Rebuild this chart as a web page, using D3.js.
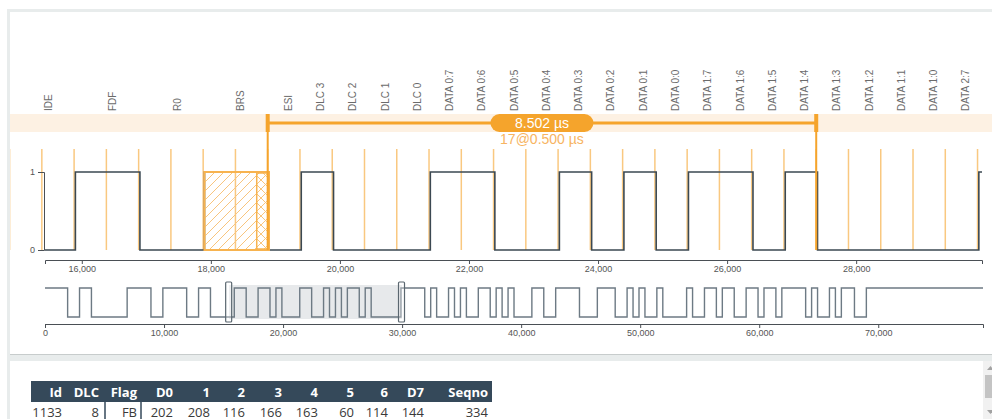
<!DOCTYPE html>
<html>
<head>
<meta charset="utf-8">
<script src="https://cdn.jsdelivr.net/npm/d3@7"></script>
<style>
  body { margin: 0; background: #fff; font-family: "Liberation Sans", Arial, sans-serif; }
  svg { display: block; }
</style>
</head>
<body>
<svg id="chart" width="992" height="419"></svg>
<script>
// signal edges (ns) and the level after each edge
const edgeTimes = [0, 1901, 2901, 3901, 6901, 8901, 9901, 11901, 12901, 13901, 15901, 16901,
  17901, 18901, 19401, 19901, 21401, 22401, 23401, 23901, 24401, 24901, 25401, 26401, 26901,
  27401, 29901, 31901, 32401, 32901, 33901, 34401, 34901, 35401, 36401, 37401, 37901, 38401,
  38901, 39401, 40901, 41901, 42901, 44901, 46401, 47901, 48901, 49401, 49901, 50401, 51401,
  51901, 53901, 54401, 55401, 56401, 56901, 57901, 58901, 59901, 60401, 61401, 61901, 63901,
  64401, 64901, 65901, 66401, 66901, 68001, 69001];
const edgeLevels = [1, 0, 1, 0, 1, 0, 1, 0, 1, 0, 1, 0,
  1, 0, 1, 0, 1, 0, 1, 0, 1, 0, 1, 0, 1,
  0, 1, 0, 1, 0, 1, 0, 1, 0, 1, 0, 1, 0,
  1, 0, 1, 0, 1, 0, 1, 0, 1, 0, 1, 0, 1,
  0, 1, 0, 1, 0, 1, 0, 1, 0, 1, 0, 1, 0,
  1, 0, 1, 0, 1, 0, 1];
const signalEnd = 78800;

// zoomed window
const viewDomain = [15430, 29950];

// bit fields shown above the trace
const bitNames = ["IDE", "FDF", "R0", "BRS", "ESI", "DLC 3", "DLC 2", "DLC 1", "DLC 0",
  "DATA 0:7", "DATA 0:6", "DATA 0:5", "DATA 0:4", "DATA 0:3", "DATA 0:2", "DATA 0:1", "DATA 0:0",
  "DATA 1:7", "DATA 1:6", "DATA 1:5", "DATA 1:4", "DATA 1:3", "DATA 1:2", "DATA 1:1", "DATA 1:0",
  "DATA 2:7"];
const bitBounds = [14911, 15911, 16911, 17911, 18881, 19381, 19881, 20381, 20881,
  21381, 21881, 22381, 22881, 23381, 23881, 24381, 24881,
  25381, 25881, 26381, 26881, 27381, 27881, 28381, 28881,
  29381, 29881];

// sample grid lines
const gridTimes = [14881, 15381, 15881, 16381, 16881, 17381, 17881, 18381, 18881, 19381,
  19881, 20381, 20881, 21381, 21881, 22381, 22881, 23381, 23881, 24381, 24881, 25381,
  25881, 26381, 26881, 27381, 27881, 28381, 28881, 29381, 29881];

// BRS highlight and measurement
const brsBit = [17901, 18901];
const brsSwitch = 18711;
const measure = [18881, 27381];
const measureText = "8.502 µs";
const measureSub = "17@0.500 µs";

// table
const tableHeaders = ["Id", "DLC", "Flag", "D0", "1", "2", "3", "4", "5", "6", "D7", "Seqno"];
const tableRow = ["1133", "8", "FB", "202", "208", "116", "166", "163", "60", "114", "144", "334"];

const orange = "#f5a42c";
const svg = d3.select("#chart");

// page frame and cards
svg.append("rect").attr("x", 7).attr("y", 9).attr("width", 985).attr("height", 410).attr("fill", "#e8ecec");
svg.append("rect").attr("x", 10).attr("y", 12).attr("width", 982).attr("height", 342).attr("fill", "#fff");
svg.append("line").attr("x1", 10).attr("x2", 992).attr("y1", 354.5).attr("y2", 354.5)
  .attr("stroke", "#c7cccc");
svg.append("rect").attr("x", 10).attr("y", 361).attr("width", 973).attr("height", 58).attr("fill", "#fff");

const defs = svg.append("defs");
defs.append("clipPath").attr("id", "plotClip").append("rect")
  .attr("x", 45).attr("y", 140).attr("width", 937).attr("height", 120);
defs.append("clipPath").attr("id", "cardClip").append("rect")
  .attr("x", 10).attr("y", 12).attr("width", 982).attr("height", 342);

function hatch(id, d) {
  defs.append("pattern").attr("id", id).attr("patternUnits", "userSpaceOnUse")
    .attr("width", 9).attr("height", 9)
    .append("path").attr("d", d)
    .attr("stroke", "#f8c57e").attr("stroke-width", 1);
}
hatch("hatchA", "M-1,1 l2,-2 M0,9 l9,-9 M8,10 l2,-2");
hatch("hatchB", "M-1,8 l2,2 M0,0 l9,9 M8,-1 l2,2");

// main chart
const x = d3.scaleLinear().domain(viewDomain).range([45, 982]);
const y = d3.scaleLinear().domain([0, 1]).range([250, 172]);

const card = svg.append("g").attr("clip-path", "url(#cardClip)");

card.append("rect").attr("x", 10).attr("y", 114).attr("width", 982).attr("height", 18)
  .attr("fill", "#fdf1e3");

card.selectAll("text.bit")
  .data(bitNames)
  .join("text")
  .attr("class", "bit")
  .attr("transform", (d, i) => `translate(${x((bitBounds[i] + bitBounds[i + 1]) / 2) + 4.5},111) rotate(-90)`)
  .attr("dy", "0.35em")
  .attr("font-size", 10)
  .attr("fill", "#6b6b6b")
  .text((d) => d);

card.selectAll("line.grid")
  .data(gridTimes)
  .join("line")
  .attr("class", "grid")
  .attr("x1", (d) => x(d)).attr("x2", (d) => x(d))
  .attr("y1", 149).attr("y2", 250)
  .attr("stroke", orange).attr("stroke-opacity", 0.6).attr("stroke-width", 1.5);

const points = edgeTimes.map((t, i) => [t, edgeLevels[i]]);
points.push([signalEnd, edgeLevels[edgeLevels.length - 1]]);

const mainLine = d3.line().x((d) => x(d[0])).y((d) => y(d[1])).curve(d3.curveStepAfter);
svg.append("path")
  .attr("clip-path", "url(#plotClip)")
  .attr("d", mainLine(points))
  .attr("fill", "none").attr("stroke", "#3b4852").attr("stroke-width", 1.6);

// BRS bit highlight
svg.append("rect")
  .attr("x", x(brsBit[0])).attr("y", y(1))
  .attr("width", x(brsBit[1]) - x(brsBit[0])).attr("height", y(0) - y(1))
  .attr("fill", "url(#hatchA)").attr("stroke", "#f7b34f").attr("stroke-width", 2);
svg.append("rect")
  .attr("x", x(brsSwitch)).attr("y", y(1) + 1)
  .attr("width", x(brsBit[1]) - x(brsSwitch) - 1).attr("height", y(0) - y(1) - 2)
  .attr("fill", "url(#hatchB)").attr("stroke", "#f7b34f").attr("stroke-width", 1.5);

// measurement bracket
svg.selectAll("line.mark")
  .data(measure)
  .join("line")
  .attr("class", "mark")
  .attr("x1", (d) => x(d)).attr("x2", (d) => x(d))
  .attr("y1", 114).attr("y2", 250)
  .attr("stroke", orange).attr("stroke-width", 2);
svg.selectAll("rect.mark")
  .data(measure)
  .join("rect")
  .attr("class", "mark")
  .attr("x", (d) => x(d) - 2).attr("y", 114).attr("width", 4).attr("height", 18)
  .attr("fill", orange);
svg.append("line")
  .attr("x1", x(measure[0])).attr("x2", x(measure[1]))
  .attr("y1", 123).attr("y2", 123)
  .attr("stroke", orange).attr("stroke-width", 3);

const mid = (x(measure[0]) + x(measure[1])) / 2;
svg.append("rect").attr("x", mid - 51.5).attr("y", 114).attr("width", 103).attr("height", 18)
  .attr("rx", 9).attr("fill", orange);
svg.append("text").attr("x", mid).attr("y", 128)
  .attr("text-anchor", "middle").attr("font-size", 14).attr("fill", "#fff")
  .text(measureText);
svg.append("text").attr("x", mid).attr("y", 144)
  .attr("text-anchor", "middle").attr("font-size", 14).attr("fill", "#f7b462")
  .text(measureSub);

// axes
function styleAxis(g) {
  g.select(".domain").attr("stroke", "#4a4f55");
  g.selectAll(".tick line").attr("stroke", "#4a4f55");
  g.selectAll("text").attr("font-size", 9).attr("fill", "#555")
    .attr("font-family", "Liberation Sans, Arial, sans-serif");
}

svg.append("g")
  .attr("transform", "translate(0,260)")
  .call(d3.axisBottom(x).tickSize(4).tickPadding(2).tickFormat(d3.format(",")))
  .call(styleAxis);

svg.append("g")
  .attr("transform", "translate(44,0)")
  .call(d3.axisLeft(y).tickValues([0, 1]).tickSize(6).tickPadding(3).tickFormat(d3.format("d")))
  .call(styleAxis);

// overview with brush
const xMini = d3.scaleLinear().domain([0, signalEnd]).range([45, 983]);
const yMini = d3.scaleLinear().domain([0, 1]).range([317, 288]);

const brush = d3.brushX().extent([[45, 285], [983, 319]]);
const brushG = svg.append("g").call(brush).call(brush.move, viewDomain.map(xMini));
brushG.select(".selection").attr("fill", "#dfe1e4").attr("fill-opacity", 0.75).attr("stroke", "none");

const miniLine = d3.line().x((d) => xMini(d[0])).y((d) => yMini(d[1])).curve(d3.curveStepAfter);
svg.append("path")
  .attr("d", miniLine(points))
  .attr("fill", "none").attr("stroke", "#6d7a84").attr("stroke-width", 1.4)
  .attr("pointer-events", "none");

svg.selectAll("rect.handle-box")
  .data(viewDomain)
  .join("rect")
  .attr("class", "handle-box")
  .attr("x", (d) => xMini(d) - 3).attr("y", 282).attr("width", 6).attr("height", 40)
  .attr("rx", 1)
  .attr("fill", "#fff").attr("fill-opacity", 0.3)
  .attr("stroke", "#5b6770").attr("stroke-width", 1.2);

svg.append("g")
  .attr("transform", "translate(0,324)")
  .call(d3.axisBottom(xMini).tickSize(4).tickPadding(2).tickFormat(d3.format(",")))
  .call(styleAxis);

// table
const colRight = [62, 99, 137, 173, 210, 245, 282, 318, 354, 388, 424, 488];
svg.append("rect").attr("x", 31).attr("y", 381).attr("width", 461).attr("height", 21)
  .attr("fill", "#35495a");
svg.selectAll("text.th")
  .data(tableHeaders)
  .join("text")
  .attr("class", "th")
  .attr("x", (d, i) => colRight[i]).attr("y", 396.5)
  .attr("text-anchor", "end")
  .attr("font-family", "Open Sans, sans-serif").attr("font-weight", "bold")
  .attr("font-size", 13).attr("fill", "#fff")
  .text((d) => d);
svg.selectAll("text.td")
  .data(tableRow)
  .join("text")
  .attr("class", "td")
  .attr("x", (d, i) => colRight[i]).attr("y", 416.5)
  .attr("text-anchor", "end")
  .attr("font-family", "Open Sans, sans-serif")
  .attr("font-size", 13).attr("fill", "#3a3a3a")
  .text((d) => d);
svg.selectAll("line.colsep")
  .data([105, 141])
  .join("line")
  .attr("class", "colsep")
  .attr("x1", (d) => d).attr("x2", (d) => d)
  .attr("y1", 402).attr("y2", 419)
  .attr("stroke", "#35495a").attr("stroke-width", 1.5);

// scrollbar of the table card
svg.append("rect").attr("x", 983).attr("y", 361).attr("width", 15).attr("height", 58).attr("fill", "#f1f1f1");
svg.append("rect").attr("x", 985).attr("y", 375).attr("width", 11).attr("height", 23).attr("fill", "#c4c4c4");
svg.append("path").attr("d", "M987,370 L990.5,366 L994,370 Z").attr("fill", "#a3a3a3");
svg.append("path").attr("d", "M987,410 L990.5,414 L994,410 Z").attr("fill", "#a3a3a3");
</script>
</body>
</html>
